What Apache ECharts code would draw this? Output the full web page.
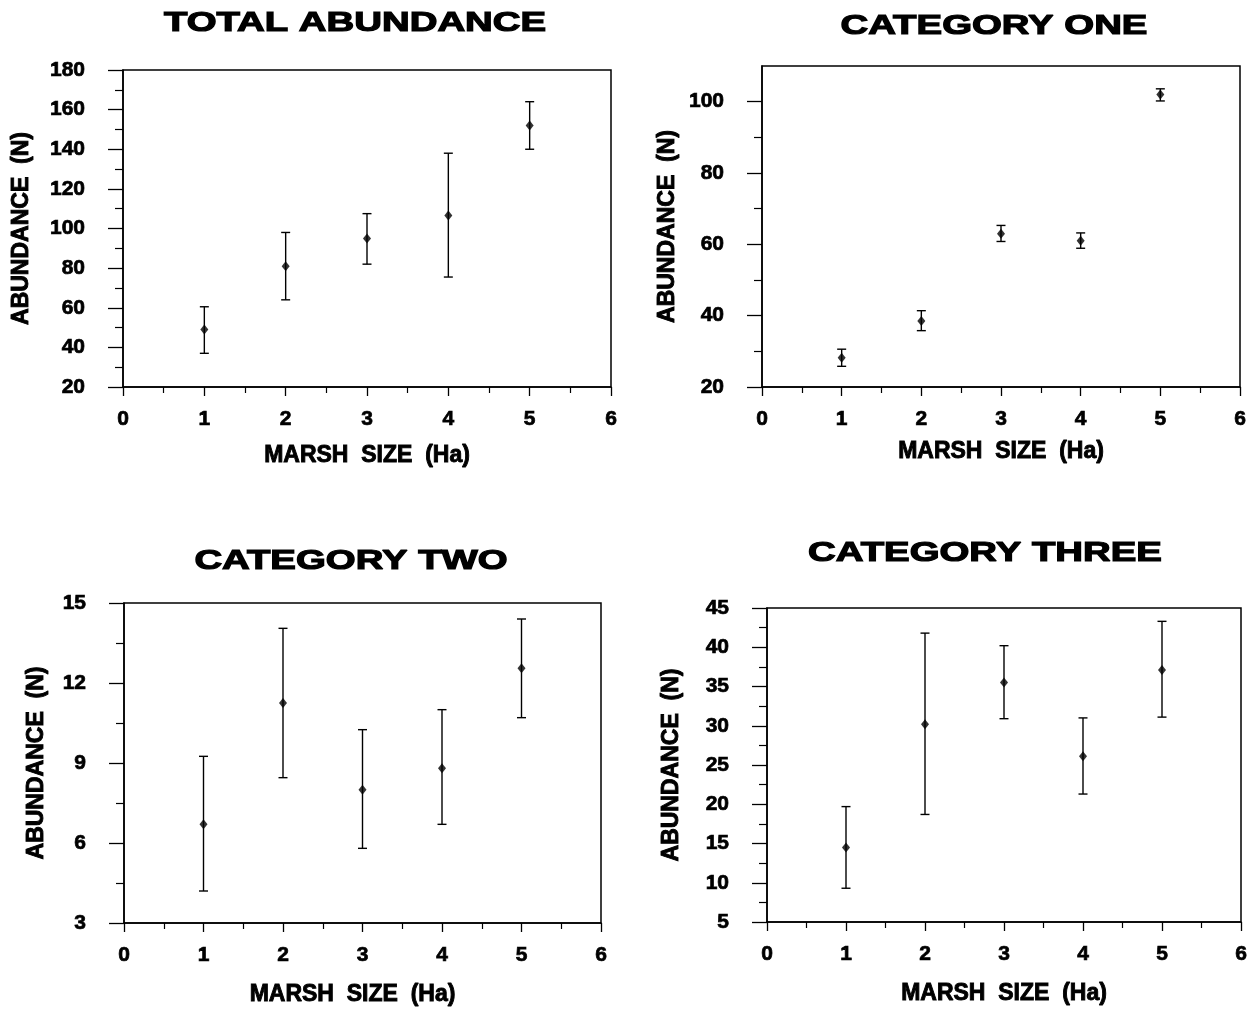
<!DOCTYPE html>
<html>
<head>
<meta charset="utf-8">
<script src="https://cdn.jsdelivr.net/npm/echarts@6/dist/echarts.min.js"></script>
<style>
html,body{margin:0;padding:0;background:#fff;}
#chart{width:1255px;height:1012px;}
</style>
</head>
<body>
<div id="chart"></div>
<script>
// ---- data ----
var marshSize = [1, 2, 3, 4, 5];
var xTicks = [0, 1, 2, 3, 4, 5, 6];

var totalMean = [49, 81, 95, 106.5, 152];
var totalLow  = [37, 64, 82, 75.5, 140];
var totalHigh = [60.5, 98, 107.5, 138, 164];

var oneMean = [28.2, 38.5, 63, 61, 102];
var oneLow  = [25.8, 35.8, 60.8, 58.9, 100.2];
var oneHigh = [30.6, 41.4, 65.3, 63.2, 103.6];

var twoMean = [6.7, 11.25, 8.0, 8.8, 12.55];
var twoLow  = [4.2, 8.45, 5.8, 6.7, 10.7];
var twoHigh = [9.25, 14.05, 10.25, 11.0, 14.4];

var threeMean = [14.5, 30.2, 35.5, 26.1, 37.1];
var threeLow  = [9.3, 18.7, 30.9, 21.3, 31.1];
var threeHigh = [19.7, 41.8, 40.2, 31.0, 43.3];

var titles = ['TOTAL ABUNDANCE', 'CATEGORY ONE', 'CATEGORY TWO', 'CATEGORY THREE'];
var xName = 'MARSH  SIZE  (Ha)';
var yName = 'ABUNDANCE  (N)';

// ---- layout ----
var FONT = '"Liberation Sans", Arial, Helvetica, sans-serif';
var panels = [
  {grid:{left:123, top:70, width:488, height:317}, y:{min:20, max:180, interval:20}, mean:totalMean, low:totalLow, high:totalHigh,
   title:{x:355, y:23}, xGap:57, yGap:90, xPad:[0,0,0,0]},
  {grid:{left:762, top:66, width:478, height:321}, y:{min:20, max:110, interval:20, custom:[20,40,60,80,100], minor:[30,50,70,90]}, mean:oneMean, low:oneLow, high:oneHigh,
   title:{x:994, y:26}, xGap:53, yGap:83, xPad:[0,0,0,0]},
  {grid:{left:124, top:603, width:477, height:320}, y:{min:3, max:15, interval:3}, mean:twoMean, low:twoLow, high:twoHigh,
   title:{x:351, y:561}, xGap:60, yGap:76, xPad:[0,20,0,0]},
  {grid:{left:767, top:608, width:474, height:314}, y:{min:5, max:45, interval:5}, mean:threeMean, low:threeLow, high:threeHigh,
   title:{x:985, y:553}, xGap:60, yGap:84, xPad:[0,0,0,0]}
];

var grids = [], xAxes = [], yAxes = [], series = [], graphics = [];

function errRender(params, api) {
  var x = api.value(0), lo = api.value(1), hi = api.value(2);
  var a = api.coord([x, lo]), b = api.coord([x, hi]);
  var w = 4.5;
  var st = {stroke: '#000', lineWidth: 1.4};
  return {type: 'group', children: [
    {type: 'line', shape: {x1: a[0], y1: a[1], x2: b[0], y2: b[1]}, style: st},
    {type: 'line', shape: {x1: a[0] - w, y1: a[1], x2: a[0] + w, y2: a[1]}, style: st},
    {type: 'line', shape: {x1: b[0] - w, y1: b[1], x2: b[0] + w, y2: b[1]}, style: st}
  ]};
}

var labelStyle = {fontFamily: FONT, fontWeight: 'bold', fontSize: 21, color: '#000', textBorderColor: '#000', textBorderWidth: 0.7};
var nameStyle = {fontFamily: FONT, fontWeight: 'bold', fontSize: 23, color: '#000', lineHeight: 23, textBorderColor: '#000', textBorderWidth: 0.9};

panels.forEach(function (p, i) {
  grids.push(Object.assign({show: true, borderColor: '#000', borderWidth: 1.5, backgroundColor: 'transparent'}, p.grid));
  xAxes.push({
    type: 'value', gridIndex: i, min: xTicks[0], max: xTicks[xTicks.length - 1], interval: 1,
    name: xName, nameLocation: 'middle', nameGap: p.xGap,
    nameTextStyle: Object.assign({padding: p.xPad}, nameStyle),
    axisLine: {show: true, lineStyle: {color: '#000', width: 1.5}},
    axisTick: {show: true, length: 9, lineStyle: {color: '#000', width: 1.3}},
    minorTick: {show: true, splitNumber: 2, length: 6, lineStyle: {color: '#000', width: 1.2}},
    splitLine: {show: false}, minorSplitLine: {show: false},
    axisLabel: Object.assign({margin: 22, lineHeight: 21}, labelStyle)
  });
  var yax = {
    type: 'value', gridIndex: i, min: p.y.min, max: p.y.max, interval: p.y.interval,
    name: yName, nameLocation: 'middle', nameGap: p.yGap,
    nameTextStyle: Object.assign({}, nameStyle),
    axisLine: {show: true, lineStyle: {color: '#000', width: 1.5}},
    axisTick: {show: true, length: 15, lineStyle: {color: '#000', width: 1.3}},
    minorTick: {show: true, splitNumber: 2, length: 8, lineStyle: {color: '#000', width: 1.2}},
    splitLine: {show: false}, minorSplitLine: {show: false},
    axisLabel: Object.assign({margin: 38}, labelStyle)
  };
  if (p.y.custom) {
    yax.axisTick.customValues = p.y.custom;
    yax.axisLabel.customValues = p.y.custom;
    yax.minorTick = {show: false};
  }
  yAxes.push(yax);
  var mainY = yAxes.length - 1;
  if (p.y.minor) {
    yAxes.push({
      type: 'value', gridIndex: i, min: p.y.min, max: p.y.max, interval: 10, position: 'left',
      axisLine: {show: false}, splitLine: {show: false},
      axisLabel: {show: false},
      axisTick: {show: true, length: 8, customValues: p.y.minor, lineStyle: {color: '#000', width: 1.2}}
    });
  }
  var errData = marshSize.map(function (x, k) { return [x, p.low[k], p.high[k]]; });
  var meanData = marshSize.map(function (x, k) { return [x, p.mean[k]]; });
  series.push({
    type: 'custom', xAxisIndex: i, yAxisIndex: mainY, renderItem: errRender,
    data: errData, encode: {x: 0, y: [1, 2]}, silent: true, z: 3
  });
  series.push({
    type: 'scatter', xAxisIndex: i, yAxisIndex: mainY, data: meanData,
    symbol: 'diamond', symbolSize: [8, 10], itemStyle: {color: '#000'}, z: 4, silent: true
  });
  graphics.push({
    type: 'text', x: p.title.x, y: p.title.y, scaleX: 1.37,
    style: {text: titles[i], font: 'bold 28px ' + FONT, fill: '#000', stroke: '#000', lineWidth: 1.2,
            textAlign: 'center', textVerticalAlign: 'middle'}
  });
});

var chart = echarts.init(document.getElementById('chart'), null, {renderer: 'canvas'});
chart.setOption({
  backgroundColor: '#fff',
  animation: false,
  grid: grids,
  xAxis: xAxes,
  yAxis: yAxes,
  series: series,
  graphic: graphics
});
</script>
</body>
</html>
